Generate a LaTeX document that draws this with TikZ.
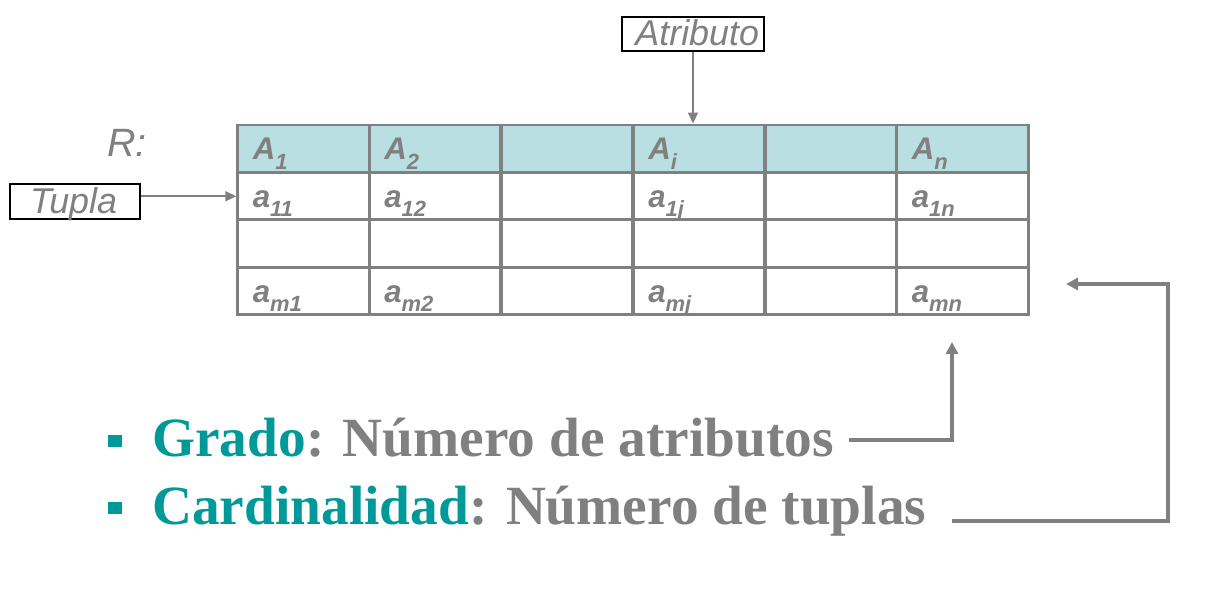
\documentclass[tikz,border=0pt]{standalone}
\usepackage{fontspec}
\setmainfont{Liberation Serif}
\setsansfont{Liberation Sans}
\usetikzlibrary{arrows.meta}

\definecolor{txtgray}{RGB}{128,128,128}
\definecolor{grteal}{RGB}{0,153,153}
\definecolor{headfill}{RGB}{185,223,226}

\newcommand{\ix}[1]{\raisebox{-5.3pt}{\fontsize{12.5pt}{13pt}\selectfont #1}}

\tikzset{
  cell/.style={draw=txtgray, line width=1.7pt, minimum width=2.63cm, minimum height=0.95cm,
    inner xsep=0.3cm, inner ysep=0pt, text width=2.03cm, align=left,
    text height=0.7cm, text depth=0.25cm, text=txtgray,
    font=\sffamily\bfseries\itshape\fontsize{17.8pt}{20pt}\selectfont},
  head/.style={cell, fill=headfill},
  tag/.style={draw=black, line width=1.1pt, inner ysep=0pt, text=txtgray,
    font=\sffamily\itshape\fontsize{20.4pt}{24pt}\selectfont},
  ptr/.style={draw=txtgray, line width=1.1pt, -{Triangle[length=0.22cm, width=0.2cm]}},
  conn/.style={draw=txtgray, line width=2.2pt, -{Triangle[length=0.24cm, width=0.24cm]}},
  bul/.style={fill=grteal, minimum width=0.27cm, minimum height=0.25cm, inner sep=0pt},
  item/.style={anchor=base west, inner sep=0pt, text=txtgray,
    font=\rmfamily\bfseries\fontsize{31.5pt}{36pt}\selectfont}
}

\begin{document}
\begin{tikzpicture}[x=0.02cm, y=-0.02cm]
\useasboundingbox (0,0) rectangle (1230,590);

% header row
\node (h1) at (303.5,148.75) [head] {A\ix{1}};
\node (h2) at (435,148.75) [head] {A\ix{2}};
\node (h3) at (567,148.75) [head] {};
\node (h4) at (699,148.75) [head] {A\ix{i}};
\node (h5) at (831,148.75) [head] {};
\node (h6) at (962.5,148.75) [head] {A\ix{n}};
% first tuple
\node (ra1) at (303.5,196.25) [cell] {a\ix{11}};
\node (ra2) at (435,196.25) [cell] {a\ix{12}};
\node (ra3) at (567,196.25) [cell] {};
\node (ra4) at (699,196.25) [cell] {a\ix{1j}};
\node (ra5) at (831,196.25) [cell] {};
\node (ra6) at (962.5,196.25) [cell] {a\ix{1n}};
% empty row
\node (rb1) at (303.5,243.75) [cell] {};
\node (rb2) at (435,243.75) [cell] {};
\node (rb3) at (567,243.75) [cell] {};
\node (rb4) at (699,243.75) [cell] {};
\node (rb5) at (831,243.75) [cell] {};
\node (rb6) at (962.5,243.75) [cell] {};
% last tuple
\node (rc1) at (303.5,291.25) [cell] {a\ix{m1}};
\node (rc2) at (435,291.25) [cell] {a\ix{m2}};
\node (rc3) at (567,291.25) [cell] {};
\node (rc4) at (699,291.25) [cell] {a\ix{mj}};
\node (rc5) at (831,291.25) [cell] {};
\node (rc6) at (962.5,291.25) [cell] {a\ix{mn}};

\node (rel) at (107,157) [anchor=base west, inner sep=0pt, text=txtgray,
  font=\sffamily\itshape\fontsize{22.5pt}{26pt}\selectfont] {R:};

% labels with pointers
\node (attr) at (693,34) [tag, text width=2.64cm, inner xsep=0.1cm, align=right,
  text height=0.58cm, text depth=0.1cm] {Atributo};
\node (tupla) at (75,201.5) [tag, text width=1.8cm, inner xsep=0.4cm, align=left,
  text height=0.6cm, text depth=0.1cm] {Tupla};
\draw[ptr] (attr.south) -- (attr.south |- h4.north);
\draw[ptr] (tupla.east |- ra1.west) -- (ra1.west);

% bullets
\node (b1) at (115,441) [bul] {};
\node (b2) at (115,508) [bul] {};
\node (grado) at (152,457) [item] {\textcolor{grteal}{Grado}: Número de atributos};
\node (card) at (152,525) [item] {\textcolor{grteal}{Cardinalidad}: Número de tuplas};

\coordinate (gtip) at (952,342);
\coordinate (ctip) at (1066,284);
\coordinate (cturn) at (1168,284);
\draw[conn] ([xshift=0.3cm, yshift=0.34cm]grado.base east) -| (gtip);
\draw[conn] ([xshift=0.5cm, yshift=0.08cm]card.base east) -| (cturn) -- (ctip);
\end{tikzpicture}
\end{document}
